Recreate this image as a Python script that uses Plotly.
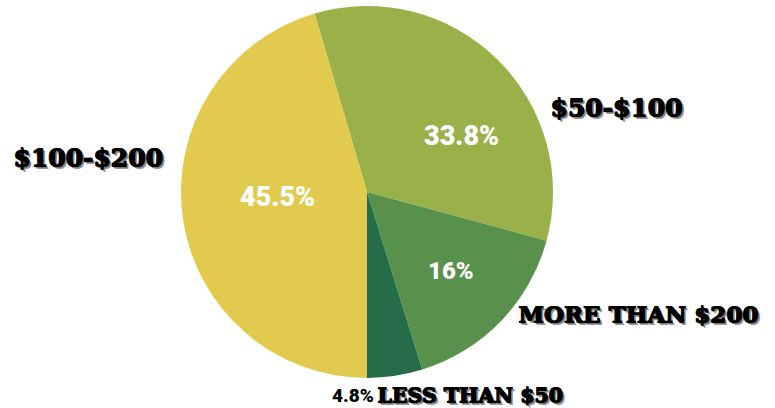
import plotly.graph_objects as go

labels = ["$50-$100", "More than $200", "Less than $50", "$100-$200"]
values = [33.8, 16, 4.8, 45.5]
colors = ["#9AB14A", "#58914B", "#256C48", "#E1CA4D"]
pct_labels = ["33.8%", "16%", "4.8%", "45.5%"]

W, H = 775, 408
cx, cy, r = 367, 192, 186

fig = go.Figure(go.Pie(
    labels=labels, values=values, sort=False, direction="clockwise",
    rotation=values[3] / sum(values) * 360 - 180,
    marker=dict(colors=colors, line=dict(width=0)),
    textinfo="none",
    domain=dict(x=[(cx - r) / W, (cx + r) / W], y=[(H - cy - r) / H, (H - cy + r) / H]),
    showlegend=False, hoverinfo="label+percent",
))

def A(text, x, y, font):
    return dict(text=text, x=x / W, y=1 - y / H, xref="paper", yref="paper",
                showarrow=False, xanchor="center", yanchor="middle", font=font)

shadow = ("1px 0px 0px #000, 0px 1px 0px #000, 1px 1px 0px #000, "
          "2px 2px 0px #777, 3px 3px 0px #999")
def lab(s):
    return dict(family="DejaVu Serif", size=s, color="black", weight="bold", shadow=shadow)
def pct(s, c="white"):
    return dict(family="Roboto", size=s, color=c, weight=900)

annotations = [
    A("$100-$200", 88, 157, lab(25)),
    A("$50-$100", 616, 108, lab(25)),
    A("MORE THAN $200", 638, 313, lab(23)),
    A("LESS THAN $50", 470, 395, lab(20.5)),
    A(pct_labels[0], 462, 136, pct(27)),
    A(pct_labels[1], 451, 271, pct(24)),
    A(pct_labels[3], 277, 197, pct(27)),
    A(pct_labels[2], 353, 395, pct(19, "black")),
]

fig.update_layout(width=W, height=H, margin=dict(l=0, r=0, t=0, b=0),
                  paper_bgcolor="white", plot_bgcolor="white", annotations=annotations)
fig.write_html("out.html")
